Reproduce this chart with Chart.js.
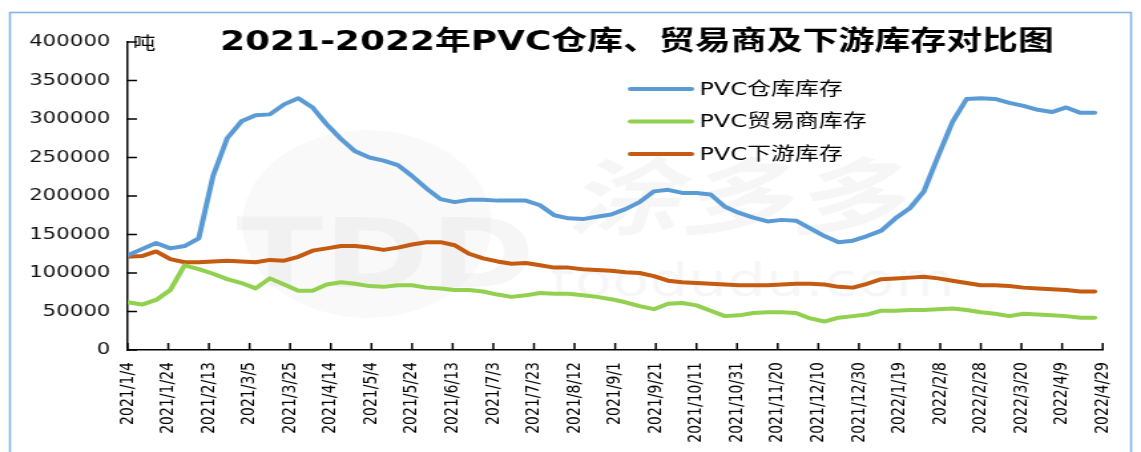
<!DOCTYPE html>
<html>
<head>
<meta charset="utf-8">
<title>PVC库存对比</title>
<script src="https://cdn.jsdelivr.net/npm/chart.js@4.4.1/dist/chart.umd.min.js"></script>
<style>
	html, body { margin: 0; padding: 0; background: #fff; overflow: hidden; }
	/* the source picture is stretched sideways, so the chart is drawn narrow and widened */
	#stock { display: block; transform: scaleX(1.32984); transform-origin: 0 0; }
</style>
</head>
<body>
<canvas id="stock" width="858" height="452"></canvas>
<script>
// weekly readings, tons
const dates = [
	'2021/1/4', '2021/1/11', '2021/1/18', '2021/1/25', '2021/2/1', '2021/2/8', '2021/2/15', '2021/2/22',
	'2021/3/1', '2021/3/8', '2021/3/15', '2021/3/22', '2021/3/29', '2021/4/5', '2021/4/12', '2021/4/19',
	'2021/4/26', '2021/5/3', '2021/5/10', '2021/5/17', '2021/5/24', '2021/5/31', '2021/6/7', '2021/6/14',
	'2021/6/21', '2021/6/28', '2021/7/5', '2021/7/12', '2021/7/19', '2021/7/26', '2021/8/2', '2021/8/9',
	'2021/8/16', '2021/8/23', '2021/8/30', '2021/9/6', '2021/9/13', '2021/9/20', '2021/9/27', '2021/10/4',
	'2021/10/11', '2021/10/18', '2021/10/25', '2021/11/1', '2021/11/8', '2021/11/15', '2021/11/22', '2021/11/29',
	'2021/12/6', '2021/12/13', '2021/12/20', '2021/12/27', '2022/1/3', '2022/1/10', '2022/1/17', '2022/1/24',
	'2022/1/31', '2022/2/7', '2022/2/14', '2022/2/21', '2022/2/28', '2022/3/7', '2022/3/14', '2022/3/21',
	'2022/3/28', '2022/4/4', '2022/4/11', '2022/4/18', '2022/4/25',
];
const warehouse = [
	123000, 131000, 139000, 132000, 135000, 145000, 226000, 275000, 297000, 305000, 306000, 319000,
	327000, 315000, 293000, 274000, 258000, 250000, 246000, 240000, 226000, 210000, 196000, 192000,
	195000, 195000, 194000, 194000, 194000, 188000, 175000, 171000, 170000, 173000, 176000, 183000,
	192000, 206000, 208000, 204000, 204000, 202000, 186000, 178000, 172000, 167000, 169000, 168000,
	158000, 148000, 140000, 142000, 148000, 155000, 171000, 184000, 206000, 252000, 296000, 326000,
	327000, 326000, 321000, 317000, 312000, 309000, 315000, 308000, 308000,
];
const trader = [
	62000, 59000, 65000, 78000, 110000, 105000, 99000, 92000, 87000, 80000, 93000, 85000,
	77000, 77000, 85000, 88000, 86000, 83000, 82000, 84000, 84000, 81000, 80000, 78000,
	78000, 76000, 72000, 69000, 71000, 74000, 73000, 73000, 71000, 69000, 66000, 62000,
	57000, 53000, 60000, 61000, 58000, 51000, 44000, 45000, 48000, 49000, 49000, 48000,
	41000, 37000, 42000, 44000, 46000, 51000, 51000, 52000, 52000, 53000, 54000, 52000,
	49000, 47000, 44000, 47000, 46000, 45000, 44000, 42000, 42000,
];
const downstream = [
	121000, 122000, 128000, 118000, 114000, 114000, 115000, 116000, 115000, 114000, 117000, 116000,
	121000, 129000, 132000, 135000, 135000, 133000, 130000, 133000, 137000, 140000, 140000, 136000,
	125000, 119000, 115000, 112000, 113000, 110000, 107000, 107000, 105000, 104000, 103000, 101000,
	100000, 96000, 90000, 88000, 87000, 86000, 85000, 84000, 84000, 84000, 85000, 86000,
	86000, 85000, 82000, 81000, 86000, 92000, 93000, 94000, 95000, 93000, 90000, 87000,
	84000, 84000, 83000, 81000, 80000, 79000, 78000, 76000, 76000,
];
const seriesNames = ['PVC仓库库存', 'PVC贸易商库存', 'PVC下游库存'];
const seriesColors = ['#5b9bd5', '#92d050', '#c55a11'];
const yTicks = [0, 50000, 100000, 150000, 200000, 250000, 300000, 350000, 400000];
const titleText = '2021-2022年PVC仓库、贸易商及下游库存对比图';
const unitText = '吨';

// x axis counts days from the first date, one label every 20 days
const startDay = Date.UTC(2021, 0, 4);
const dayOf = s => {
	const p = s.split('/').map(Number);
	return (Date.UTC(p[0], p[1] - 1, p[2]) - startDay) / 86400000;
};
const dayLabel = d => {
	const t = new Date(startDay + d * 86400000);
	return t.getUTCFullYear() + '/' + (t.getUTCMonth() + 1) + '/' + t.getUTCDate();
};
const points = vals => vals.map((v, i) => ({ x: dayOf(dates[i]), y: v }));

const decor = {
	id: 'decor',
	beforeDraw(chart) {
		const c = chart.ctx;
		c.save();
		c.strokeStyle = '#86b5e3';
		c.lineWidth = 1.6;
		c.strokeRect(7.5, 12.5, 843, 480);
		c.restore();
	},
	beforeDatasetsDraw(chart) {
		// faint site watermark
		const c = chart.ctx;
		c.save();
		c.fillStyle = 'rgba(0,0,0,0.025)';
		c.beginPath();
		c.arc(276, 224, 94, 0, Math.PI * 2);
		c.fill();
		c.fillStyle = 'rgba(0,0,0,0.035)';
		c.textAlign = 'center';
		c.textBaseline = 'middle';
		c.font = 'bold 96px "DejaVu Sans"';
		c.fillText('TDD', 290, 262);
		c.font = 'italic bold 84px "Noto Sans CJK SC"';
		c.fillText('涂多多', 552, 196);
		c.font = '46px "DejaVu Sans"';
		c.fillText('toodudu.com', 566, 284);
		c.restore();
	},
	afterDraw(chart) {
		const c = chart.ctx;
		const a = chart.chartArea;
		const xs = chart.scales.x;
		const ys = chart.scales.y;
		c.save();
		// tick marks point into the plot
		c.strokeStyle = '#000';
		c.lineWidth = 1.5;
		c.beginPath();
		ys.ticks.forEach(t => {
			const y = ys.getPixelForValue(t.value);
			c.moveTo(a.left, y);
			c.lineTo(a.left + 7, y);
		});
		xs.ticks.forEach(t => {
			const x = xs.getPixelForValue(t.value);
			c.moveTo(x, a.bottom);
			c.lineTo(x, a.bottom - 7);
		});
		c.stroke();

		c.fillStyle = '#000';
		c.textBaseline = 'middle';
		c.textAlign = 'center';
		c.font = 'bold 27px "DejaVu Sans", "Noto Sans CJK SC"';
		c.fillText(titleText, 479, 43);

		c.textAlign = 'left';
		c.font = '17px "Noto Sans CJK SC"';
		c.fillText(unitText, 100, 43);

		// legend inside the plot
		c.font = '18px "DejaVu Sans", "Noto Sans CJK SC"';
		seriesNames.forEach((name, i) => {
			const y = 89 + i * 32.5;
			c.strokeStyle = seriesColors[i];
			c.lineWidth = 4;
			c.lineCap = 'round';
			c.beginPath();
			c.moveTo(474, y);
			c.lineTo(520, y);
			c.stroke();
			c.fillStyle = '#000';
			c.fillText(name, 526, y + 1);
		});
		c.restore();
	},
};

const ctx = document.getElementById('stock').getContext('2d');
new Chart(ctx, {
	type: 'line',
	data: {
		datasets: [warehouse, trader, downstream].map((vals, i) => ({
			label: seriesNames[i],
			data: points(vals),
			borderColor: seriesColors[i],
			backgroundColor: seriesColors[i],
			borderWidth: 4,
			pointRadius: 0,
			tension: 0,
			borderJoinStyle: 'round',
			borderCapStyle: 'round',
		})),
	},
	options: {
		responsive: false,
		animation: false,
		layout: { padding: { top: 42, right: 16, left: 0, bottom: 0 } },
		plugins: {
			legend: { display: false },
			title: { display: false },
			tooltip: { enabled: false },
		},
		scales: {
			x: {
				type: 'linear',
				min: 0,
				max: 480,
				afterFit(scale) { scale.height = 102; },
				grid: { display: false, drawTicks: false },
				border: { display: true, color: '#000', width: 1.5 },
				ticks: {
					stepSize: 20,
					autoSkip: false,
					minRotation: 90,
					maxRotation: 90,
					padding: 12,
					color: '#000',
					font: { family: '"DejaVu Sans"', size: 14 },
					callback: v => dayLabel(v),
				},
			},
			y: {
				min: 0,
				max: 400000,
				afterFit(scale) { scale.width = 96; },
				afterBuildTicks(scale) { scale.ticks = yTicks.map(v => ({ value: v })); },
				grid: { display: false, drawTicks: false },
				border: { display: true, color: '#000', width: 1.5 },
				ticks: {
					padding: 13,
					color: '#111',
					font: { family: '"DejaVu Sans"', size: 16 },
					callback: v => String(v),
				},
			},
		},
	},
	plugins: [decor],
});
</script>
</body>
</html>
